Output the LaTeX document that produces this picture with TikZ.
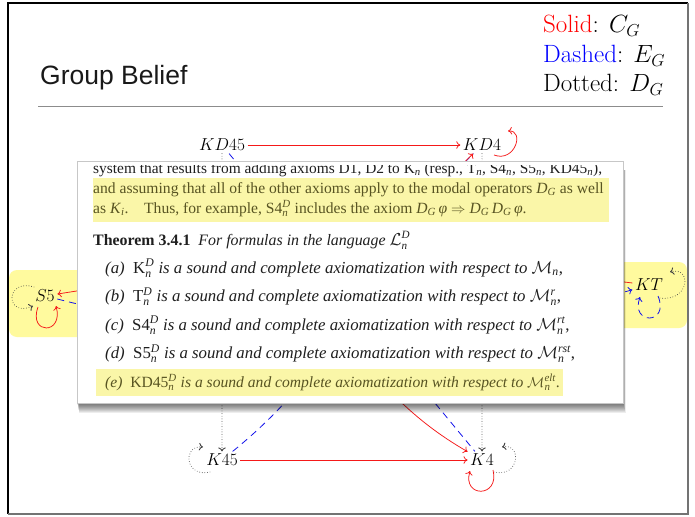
\documentclass[tikz,border=0pt]{standalone}
\usepackage{fontspec}
\usepackage{amsmath}
\newfontfamily\tms{Liberation Serif}
\newfontfamily\hel{Liberation Sans}
\usetikzlibrary{arrows.meta}
\definecolor{hly}{RGB}{255,250,158}
\definecolor{ovhl}{RGB}{250,246,168}
\definecolor{hltext}{RGB}{88,84,34}
\definecolor{myred}{RGB}{245,25,25}
\definecolor{myblue}{RGB}{20,20,235}
\tikzset{
  lbl/.style={inner sep=2.5pt, font=\fontsize{16.5}{18}\selectfont},
  arr/.style={-{To[length=4pt,width=7.5pt]}},
  cg/.style={draw=myred, line width=0.75pt},
  eg/.style={draw=myblue, line width=0.8pt, dash pattern=on 7pt off 5pt},
  dg/.style={draw=black!75, line width=0.9pt, line cap=round, dash pattern=on 0pt off 2.6pt},
  ovtext/.style={anchor=base west, inner sep=0pt, font=\tms\fontsize{15.6}{18}\selectfont, text=black!88},
  itemfont/.style={font=\tms\fontsize{16.8}{18}\selectfont},
  legend/.style={anchor=base west, inner sep=0pt, font=\fontsize{25}{28}\selectfont}
}
\begin{document}
\begin{tikzpicture}[x=1pt,y=1pt]
\useasboundingbox (0,0) rectangle (695,-516);
\fill[white] (0,0) rectangle (695,-516);

% yellow highlight boxes behind S5 and KT
\fill[hly, rounded corners=8pt] (9,-270) rectangle (130,-337);
\fill[hly, rounded corners=8pt] (560,-262) rectangle (687,-328);

% title, rule, legend
\node[anchor=base west, inner sep=0pt, font=\hel\fontsize{26.5}{30}\selectfont, text=black!90] (title) at (40,-85) {Group Belief};
\draw[black!45, line width=0.8pt] (38,-106) -- (663,-106);
\node[legend] (lg1) at (543,-33) {\textcolor{red}{Solid}: $C_G$};
\node[legend] (lg2) at (543,-63) {\textcolor{blue}{Dashed}: $E_G$};
\node[legend] (lg3) at (543,-92) {Dotted: $D_G$};

% nodes
\node[lbl] (kd45) at (222,-145) {$KD45$};
\node[lbl] (kd4)  at (482,-145) {$KD4$};
\node[lbl] (s5)   at (45,-296)  {$S5$};
\node[lbl] (kt)   at (649,-285) {$KT$};
\node[lbl] (k45)  at (222,-460) {$K45$};
\node[lbl] (k4)   at (482,-460) {$K4$};
\coordinate (ha) at (400,-225);
\coordinate (hb) at (340,-340);

% edges
\draw[cg,arr] (kd45) -- (kd4);
\draw[cg,arr] (k45) -- (k4);
\draw[dg,arr] (kd45) -- (k45);
\draw[dg,arr] (kd4) -- (k4);
\draw[eg] (kd45) -- (k4);
\draw[eg] (k45) to[out=39,in=-135] (kd4);
\draw[cg,arr] (kt) to[bend right=8] (s5);
\draw[eg,arr] (s5) to[bend right=15] (kt);
\draw[cg,arr] (ha) -- (kd4);
\draw[cg,arr] (hb) to[out=-45,in=150] (k4);

% loops
\draw[cg,arr] ([shift={(12,-10)}]kd4.center) .. controls +(21,-8) and +(17,1) .. ([shift={(26,14)}]kd4.center);
\draw[dg,arr] ([shift={(-11,9)}]s5.center) .. controls +(-29,9) and +(-28,-12) .. ([shift={(-12,-10)}]s5.center);
\draw[cg,arr] ([shift={(-7,-11)}]s5.center) .. controls +(-10,-28) and +(8,-29) .. ([shift={(11,-10)}]s5.center);
\draw[dg,arr] ([shift={(11,-13)}]kt.center) .. controls +(30,-4) and +(22,6) .. ([shift={(21,13)}]kt.center);
\draw[eg,arr] ([shift={(9,-11)}]kt.center) .. controls +(12,-29) and +(-10,-28) .. ([shift={(-9,-12)}]kt.center);
\draw[dg,arr] ([shift={(-12,-12)}]k45.center) .. controls +(-25,-6) and +(-21,2) .. ([shift={(-19,13)}]k45.center);
\draw[cg,arr] ([shift={(11,-10)}]k4.center) .. controls +(7,-28) and +(-8,-27) .. ([shift={(-12,-11)}]k4.center);
\draw[dg,arr] ([shift={(12,-12)}]k4.center) .. controls +(26,-6) and +(20,4) .. ([shift={(20,13)}]k4.center);

% overlay excerpt with shadow
\foreach \i in {1,...,10} {
  \fill[black, opacity=0.07] (77+0.2*\i,-170) rectangle (623+0.25*\i,-403-\i);
}
\filldraw[fill=white, draw=black!22, line width=0.6pt] (77,-161) rectangle (623,-403);
\fill[ovhl] (93,-178) rectangle (609,-222);
\fill[ovhl] (96,-369) rectangle (563,-396);
\begin{scope}
\clip (77,-165) rectangle (623,-403);
\node[ovtext, font=\tms\fontsize{15.4}{18}\selectfont] (t1) at (93,-173) {system that results from adding axioms D1, D2 to K$_{\textit{n}}$ (resp., T$_{\textit{n}}$, S4$_{\textit{n}}$, S5$_{\textit{n}}$, KD45$_{\textit{n}}$),};
\node[ovtext, text=hltext] (t2) at (93,-193) {and assuming that all of the other axioms apply to the modal operators \textit{D}$_{\textit{G}}$ as well};
\node[ovtext, text=hltext, font=\tms\fontsize{15.6}{18}\selectfont] (t3) at (93,-213) {as \textit{K}$_{\textit{i}}$.\quad Thus, for example, S4$^{\textit{D}}_{\textit{n}}$ includes the axiom \textit{D}$_{\textit{G}}$\,\textit{φ} $\Rightarrow$ \textit{D}$_{\textit{G}}$\,\textit{D}$_{\textit{G}}$\,\textit{φ}.};
\node[ovtext, font=\tms\fontsize{15.9}{18}\selectfont] (th) at (93,-245) {\textbf{Theorem 3.4.1}\enspace\textit{For formulas in the language} $\mathcal{L}^{\textit{D}}_{\textit{n}}$};
\node[ovtext, itemfont] (ia) at (105,-273) {\textit{(a)}\enspace K$^{\textit{D}}_{\textit{n}}$ \textit{is a sound and complete axiomatization with respect to} $\mathcal{M}_{\textit{n}}$,};
\node[ovtext, itemfont] (ib) at (105,-301.5) {\textit{(b)}\enspace T$^{\textit{D}}_{\textit{n}}$ \textit{is a sound and complete axiomatization with respect to} $\mathcal{M}^{\textit{r}}_{\textit{n}}$,};
\node[ovtext, itemfont] (ic) at (105,-330) {\textit{(c)}\enspace S4$^{\textit{D}}_{\textit{n}}$ \textit{is a sound and complete axiomatization with respect to} $\mathcal{M}^{\textit{rt}}_{\textit{n}}$,};
\node[ovtext, itemfont] (id) at (105,-358.5) {\textit{(d)}\enspace S5$^{\textit{D}}_{\textit{n}}$ \textit{is a sound and complete axiomatization with respect to} $\mathcal{M}^{\textit{rst}}_{\textit{n}}$,};
\node[ovtext, text=hltext, font=\tms\fontsize{15.6}{18}\selectfont] (ie) at (105,-387) {\textit{(e)}\enspace KD45$^{\textit{D}}_{\textit{n}}$ \textit{is a sound and complete axiomatization with respect to} $\mathcal{M}^{\textit{elt}}_{\textit{n}}$.};
\end{scope}

% slide frame
\draw[black, line width=1.2pt] (688,-3) -- (8,-3) -- (8,-514);
\draw[black!55, line width=2pt] (8,-514) -- (688,-514) -- (688,-3);
\end{tikzpicture}
\end{document}
